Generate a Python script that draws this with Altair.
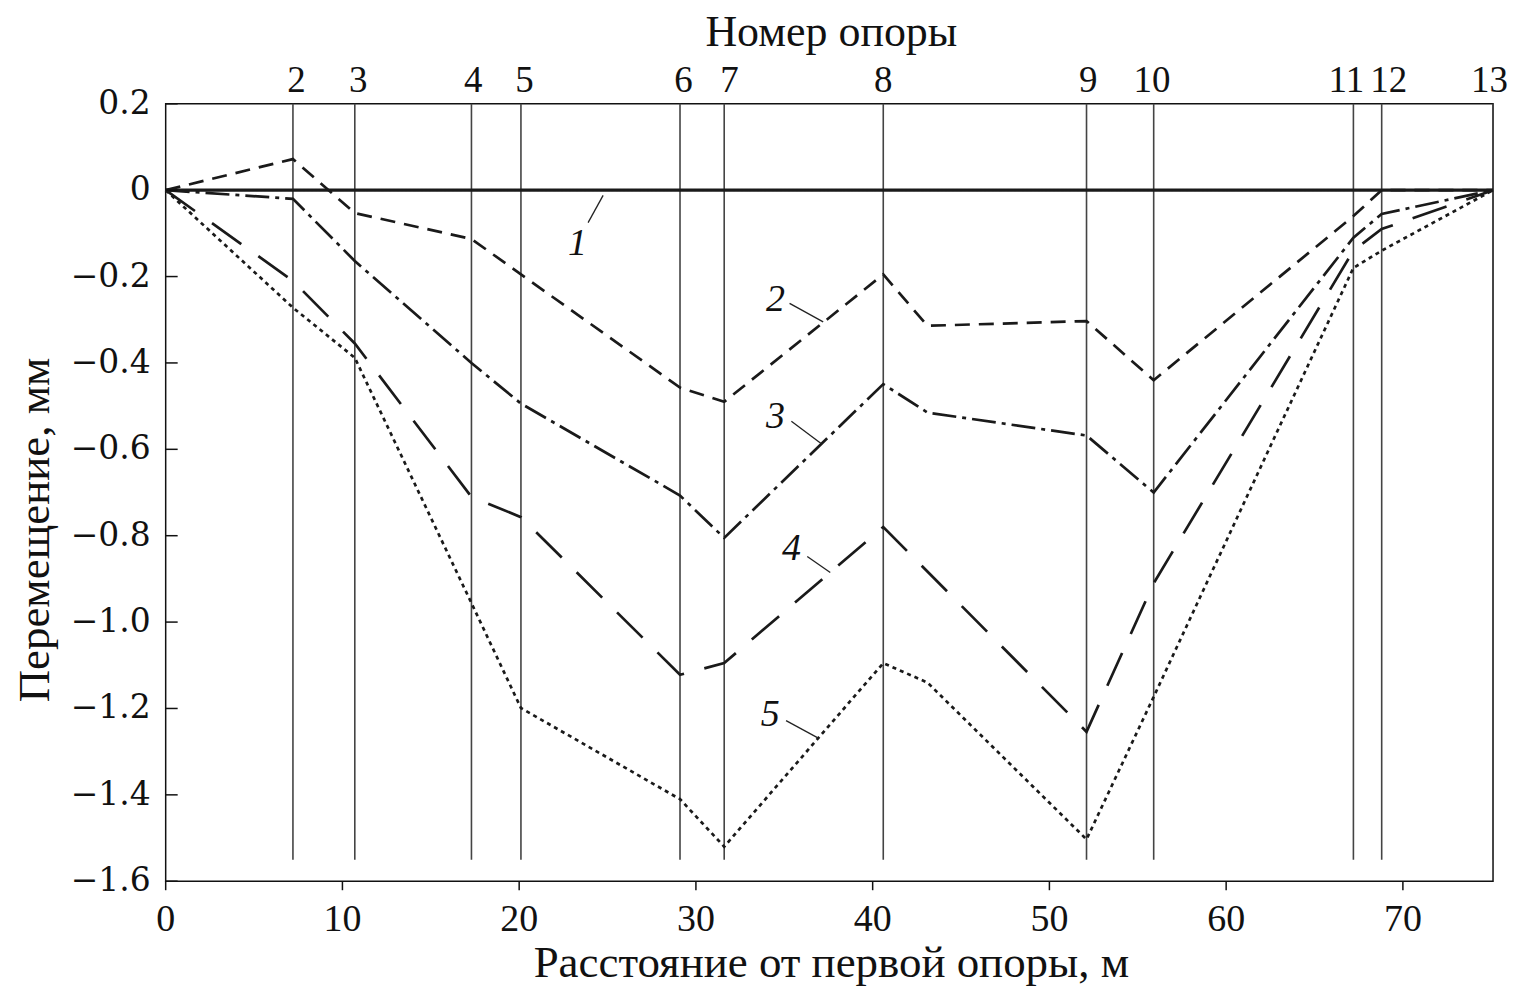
import altair as alt
import pandas as pd

# Support numbers and positions (m)
support_labels = ["2", "3", "4", "5", "6", "7", "8", "9", "10", "11", "12", "13"]
support_x = [7.2, 10.7, 17.3, 20.1, 29.1, 31.6, 40.6, 52.1, 55.9, 67.2, 68.8, 75.1]
support_label_x = [7.4, 10.9, 17.4, 20.3, 29.3, 31.9, 40.6, 52.2, 55.8, 66.8, 69.2, 74.9]

# Curves (displacement, mm)
x_main = [0, 7.2, 10.7, 17.3, 20.1, 29.1, 31.6, 40.6, 43.1, 52.1, 55.9, 67.2, 68.8, 75.1]
curve1 = [0, 0, 0, 0, 0, 0, 0, 0, 0, 0, 0, 0, 0, 0]
curve2 = [0, 0.072, -0.053, -0.113, -0.195, -0.457, -0.49, -0.195, -0.314, -0.303, -0.44, -0.06, 0.0, 0.0]
curve3 = [0, -0.02, -0.164, -0.40, -0.494, -0.707, -0.805, -0.449, -0.515, -0.568, -0.70, -0.11, -0.055, 0]
x_c4 = [0, 7.2, 10.7, 17.3, 20.1, 29.1, 31.6, 40.6, 52.1, 55.9, 67.2, 68.8, 75.1]
curve4 = [0, -0.21, -0.355, -0.71, -0.757, -1.122, -1.095, -0.78, -1.254, -0.91, -0.14, -0.09, 0]
curve5 = [0, -0.272, -0.388, -0.956, -1.199, -1.41, -1.52, -1.095, -1.14, -1.503, -1.173, -0.18, -0.14, 0]

# Curve labels and leader lines
lab_text = ["1", "2", "3", "4", "5"]
lab_x = [23.3, 34.5, 34.5, 35.4, 34.2]
lab_y = [-0.125, -0.255, -0.525, -0.83, -1.215]
lead_x1 = [24.75, 35.3, 35.4, 36.3, 35.1]
lead_y1 = [-0.012, -0.262, -0.535, -0.848, -1.228]
lead_x2 = [23.9, 37.2, 37.1, 37.6, 36.9]
lead_y2 = [-0.075, -0.305, -0.587, -0.885, -1.268]

# Axis ticks and labels
y_ticks = [0.2, 0, -0.2, -0.4, -0.6, -0.8, -1.0, -1.2, -1.4, -1.6]
y_tick_labels = ["0.2", "0", "\u22120.2", "\u22120.4", "\u22120.6", "\u22120.8",
                 "\u22121.0", "\u22121.2", "\u22121.4", "\u22121.6"]
x_ticks = [0, 10, 20, 30, 40, 50, 60, 70]
x_tick_labels = ["0", "10", "20", "30", "40", "50", "60", "70"]

x_title = "Расстояние от первой опоры, м"
y_title = "Перемещение, мм"
top_title = "Номер опоры"

XDOM = [0, 75.1]
YDOM = [-1.6, 0.2]
FONT = "Liberation Serif"
INK = "#111111"
W, H = 1330, 779

def df_curve(xs, ys, name):
    return pd.DataFrame({"x": xs, "y": ys, "curve": name})

curves = [
    (df_curve(x_main, curve1, "1"), [1, 0], 3.4),
    (df_curve(x_main, curve2, "2"), [15, 9], 2.7),
    (df_curve(x_main, curve3, "3"), [24, 6, 4, 6], 2.7),
    (df_curve(x_c4, curve4, "4"), [36, 21], 2.7),
    (df_curve(x_main, curve5, "5"), [4, 4], 2.7),
]

xs = alt.Scale(domain=XDOM, nice=False, zero=False)
ys = alt.Scale(domain=YDOM, nice=False, zero=False)

def X(f):
    return alt.X(f, scale=xs, axis=None)

def Y(f):
    return alt.Y(f, scale=ys, axis=None)

layers = []

# support lines
supports = pd.DataFrame({"x": support_x, "top": 0.2, "bot": -1.55})
layers.append(alt.Chart(supports).mark_rule(color="#444444", strokeWidth=1.6).encode(
    x=X("x:Q"), y=Y("top:Q"), y2="bot:Q"))

# curves
for d, dash, sw in curves:
    layers.append(
        alt.Chart(d).mark_line(color="#1a1a1a", strokeWidth=sw, strokeDash=dash).encode(
            x=X("x:Q"), y=Y("y:Q")))

# support numbers along the top
stop = pd.DataFrame({"x": support_label_x, "lab": support_labels, "top": 0.2})
layers.append(
    alt.Chart(stop).mark_text(font=FONT, fontSize=37, color=INK, align="center",
                              baseline="alphabetic", dy=-12).encode(
        x=X("x:Q"), y=Y("top:Q"), text="lab:N"))

# top title
layers.append(
    alt.Chart(pd.DataFrame({"t": [top_title]})).mark_text(
        font=FONT, fontSize=44, color=INK, align="center", baseline="alphabetic").encode(
        x=alt.value(W / 2 + 2), y=alt.value(-58), text="t:N"))

# y-axis: inward ticks and labels
yt = pd.DataFrame({"y": y_ticks, "lab": y_tick_labels})
layers.append(alt.Chart(yt).mark_rule(color=INK, strokeWidth=1.5).encode(
    x=alt.value(0), x2=alt.value(12), y=Y("y:Q")))
layers.append(alt.Chart(yt).mark_text(font="DejaVu Serif", fontSize=33, color=INK,
                                      align="right", baseline="middle").encode(
    x=alt.value(-15), y=Y("y:Q"), text="lab:N"))

# y-axis title
layers.append(
    alt.Chart(pd.DataFrame({"t": [y_title]})).mark_text(
        font=FONT, fontSize=45, color=INK, align="center", baseline="middle", angle=270).encode(
        x=alt.value(-131), y=alt.value(427), text="t:N"))

# x-axis: outward ticks and labels
xt = pd.DataFrame({"x": x_ticks, "lab": x_tick_labels})
layers.append(alt.Chart(xt).mark_rule(color=INK, strokeWidth=1.5).encode(
    x=X("x:Q"), y=alt.value(H), y2=alt.value(H + 9)))
layers.append(alt.Chart(xt).mark_text(font=FONT, fontSize=38, color=INK,
                                      align="center", baseline="alphabetic").encode(
    x=X("x:Q"), y=alt.value(H + 50), text="lab:N"))

# x-axis title
layers.append(
    alt.Chart(pd.DataFrame({"t": [x_title]})).mark_text(
        font=FONT, fontSize=45, color=INK, align="center", baseline="alphabetic").encode(
        x=alt.value(W / 2 + 2), y=alt.value(H + 96), text="t:N"))

# leader lines for the curve numbers
lead = pd.DataFrame({"x1": lead_x1, "y1": lead_y1, "x2": lead_x2, "y2": lead_y2})
layers.append(alt.Chart(lead).mark_rule(color="#222222", strokeWidth=1.3).encode(
    x=X("x1:Q"), x2="x2:Q", y=Y("y1:Q"), y2="y2:Q"))

labs = pd.DataFrame({"t": lab_text, "x": lab_x, "y": lab_y})
layers.append(alt.Chart(labs).mark_text(font=FONT, fontSize=38, fontStyle="italic",
                                        color=INK, align="center", baseline="middle").encode(
    x=X("x:Q"), y=Y("y:Q"), text="t:N"))

chart = alt.layer(*layers).properties(
    width=W, height=H, background="white",
    autosize=alt.AutoSizeParams(type="none"),
    padding={"left": 158, "top": 95, "right": 16, "bottom": 106},
).configure_view(stroke=INK, strokeWidth=1.5)

chart.save("out.html", embed_options={"renderer": "svg", "actions": False})
